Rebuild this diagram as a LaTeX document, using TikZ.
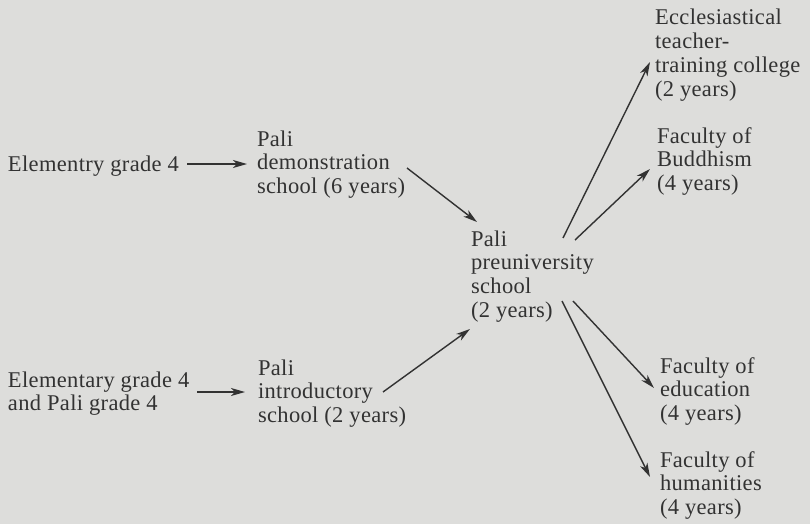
\documentclass[tikz,border=0pt]{standalone}
\usepackage{fontspec}
\setmainfont{Liberation Serif}[LetterSpace=1.5]
\usetikzlibrary{arrows.meta}
\definecolor{bg}{RGB}{221,221,219}
\definecolor{ink}{RGB}{50,50,50}
\begin{document}
\begin{tikzpicture}[x=1pt,y=-1pt,
  lbl/.style={anchor=base west,inner sep=0pt,outer sep=0pt,align=left,text=ink,
    font=\fontsize{22.5}{23.7}\selectfont},
  arr/.style={draw=ink,line width=1.4pt,-{Stealth[length=14pt,width=8pt,inset=4pt]}}]
\fill[bg] (0,0) rectangle (810,524);
\useasboundingbox (0,0) rectangle (810,524);
% nodes placed at the baseline of their last line
\node[lbl] (e1) at (8,171) {Elementry grade 4};
\node[lbl] (e2) at (8,410.7) {Elementary grade 4\\and Pali grade 4};
\node[lbl] (demo) at (257,193.4) {Pali\\demonstration\\school (6 years)};
\node[lbl] (intro) at (258,422.4) {Pali\\introductory\\school (2 years)};
\node[lbl] (pre) at (471,317.1) {Pali\\preuniversity\\school\\(2 years)};
\node[lbl] (ecc) at (655,96.1) {Ecclesiastical\\teacher-\\training college\\(2 years)};
\node[lbl] (bud) at (657,190.4) {Faculty of\\Buddhism\\(4 years)};
\node[lbl] (edu) at (660,420.4) {Faculty of\\education\\(4 years)};
\node[lbl] (hum) at (660,514.4) {Faculty of\\humanities\\(4 years)};
\draw[arr] ([shift={(179,-7)}]e1.base west) -- ([shift={(-10,-29.4)}]demo.base west);
\draw[arr] ([shift={(189,-18.7)}]e2.base west) -- ([shift={(-13,-30.4)}]intro.base west);
\draw[arr] ([shift={(150,-25.4)}]demo.base west) -- ([shift={(6,-95.1)}]pre.base west);
\draw[arr] ([shift={(125,-30.4)}]intro.base west) -- ([shift={(-1,11.9)}]pre.base west);
\draw[arr] ([shift={(92,-79.1)}]pre.base west) -- ([shift={(-5,-34.1)}]ecc.base west);
\draw[arr] ([shift={(104,-77.1)}]pre.base west) -- ([shift={(-7,-21.4)}]bud.base west);
\draw[arr] ([shift={(102,-16.1)}]pre.base west) -- ([shift={(-6,-32.4)}]edu.base west);
\draw[arr] ([shift={(91,-16.1)}]pre.base west) -- ([shift={(-10,-37.4)}]hum.base west);
\end{tikzpicture}
\end{document}
